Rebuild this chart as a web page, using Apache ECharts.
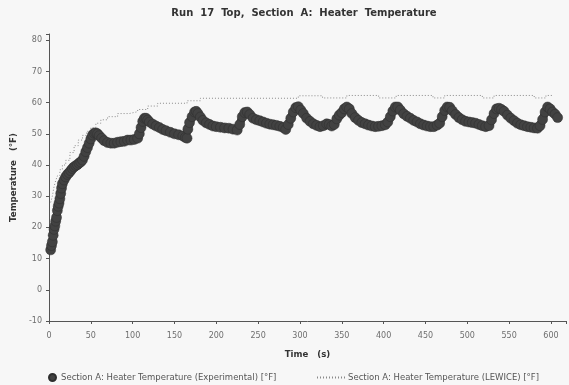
<!DOCTYPE html>
<html>
<head>
<meta charset="utf-8">
<script src="https://cdn.jsdelivr.net/npm/echarts@6/dist/echarts.min.js"></script>
<style>
  html, body { margin: 0; padding: 0; background: #f7f7f7; }
  #chart { width: 569px; height: 385px; }
</style>
</head>
<body>
<div id="chart"></div>
<script>
// Measured heater temperature, Section A (time in s, temperature in °F)
const timeExp = [2,3,4,5,6,7,8,9,10,11,12,13,14,15,16,18,20,22,24,26,28,30,32,34,36,38,40,42,44,46,48,50,52,54,56,58,60,63,66,70,74,78,82,86,90,94,98,102,106,108,110,112,114,116,118,120,124,128,132,136,140,145,150,155,160,163,165,166,168,171,174,176,178,181,184,188,192,196,200,205,210,215,220,225,228,231,234,237,240,244,248,252,256,260,264,268,272,276,280,283,286,289,292,295,298,301,304,308,312,316,320,324,328,332,335,338,341,344,347,350,353,356,359,362,366,370,374,378,382,386,390,394,398,402,405,408,411,414,417,420,424,428,432,436,440,444,448,452,456,460,464,467,470,473,476,479,482,486,490,494,498,502,506,510,514,518,522,526,529,532,535,538,541,544,548,552,556,560,564,568,572,576,580,584,587,590,593,596,599,602,605,608];
const tempExp = [12.8,14.2,15.4,17.5,19.4,20.5,22,23.2,25.4,26.8,27.8,29.2,30.9,32.6,34,35.2,36.2,37,37.5,38.2,38.9,39.4,39.8,40.1,40.6,41,41.6,42.8,44.3,45.6,47,48.4,49.6,50.2,50.3,50,49.4,48.6,47.8,47.2,47,47,47.3,47.5,47.6,48,48,48.2,48.6,50,52,54,55,55,54.4,53.8,53.1,52.5,52,51.4,51,50.5,50,49.7,49.3,48.8,48.6,51.5,53.6,55.5,57,57.2,56.5,55.4,54.3,53.5,53,52.5,52.3,52.1,51.9,51.8,51.5,51.2,53,55.5,56.8,57,56.2,55,54.5,54.2,53.8,53.4,53.1,52.9,52.7,52.4,52,51.4,53,55,57,58.4,58.7,57.6,56.5,55,54,53.2,52.7,52.3,52.6,53.2,53,52.5,53,54.8,56,56.8,58,58.6,58,56.5,55.2,54.3,53.6,53.2,52.8,52.5,52.3,52.4,52.6,52.9,53.8,55.5,57.3,58.6,58.6,57.6,56.4,55.6,55,54.3,53.8,53.2,52.8,52.5,52.3,52.3,52.8,53.4,55.5,57.5,58.6,58.5,57.4,56.2,55.2,54.5,54,53.8,53.6,53.4,53,52.6,52.3,52.6,54.5,56.5,58,58.2,57.8,57.2,56,55,54.2,53.4,52.9,52.6,52.3,52.1,51.9,51.8,52.6,54.6,57,58.6,58,57,56.3,55.2];

// LEWICE prediction, stepwise
const timeLew = [2,4,6,8,10,13,16,20,25,30,35,40,45,50,56,62,70,82,96,106,118,130,165,181,298,327,356,394,415,459,473,518,532,580,594,602];
const tempLew = [28,30,33,35,36.5,38.5,40,41.5,44,46.2,48,49.5,50.8,52,53.4,54.5,55.5,56.5,57.1,57.8,58.9,59.8,60.6,61.4,62.2,61.5,62.3,61.5,62.3,61.5,62.3,61.5,62.3,61.5,62.3,62.3];

const xTicks = [0,50,100,150,200,250,300,350,400,450,500,550,600];
const yTicks = [-10,0,10,20,30,40,50,60,70,80];

const expName = 'Section A: Heater Temperature (Experimental) [°F]';
const lewName = 'Section A: Heater Temperature (LEWICE) [°F]';

const expData = timeExp.map((t, i) => [t, tempExp[i]]);
const lewData = timeLew.map((t, i) => [t, tempLew[i]]);

const labelFont = { fontFamily: 'DejaVu Sans', fontSize: 8, color: '#6e6e6e' };
const boldFont = { fontFamily: 'DejaVu Sans', fontWeight: 'bold', fontSize: 8.6, color: '#333' };
const legendText = { fontFamily: 'DejaVu Sans', fontSize: 8.5, color: '#555', padding: [0, 0, 0, -2] };

const chart = echarts.init(document.getElementById('chart'), null, { renderer: 'canvas' });
chart.setOption({
  backgroundColor: '#f7f7f7',
  animation: false,
  title: {
    text: 'Run  17  Top,  Section  A:  Heater  Temperature',
    left: 304,
    textAlign: 'center',
    top: 8,
    padding: 0,
    textStyle: Object.assign({}, boldFont, { fontSize: 10 })
  },
  grid: { left: 49, right: 2, top: 34, bottom: 64, containLabel: false },
  legend: [
    {
      data: [{ name: expName, icon: 'circle' }],
      left: 43, top: 368, itemWidth: 7, itemHeight: 7,
      textStyle: Object.assign({}, legendText, { padding: [0, 0, 0, 0] })
    },
    {
      data: [{ name: lewName, itemStyle: { opacity: 0 } }],
      left: 311, top: 368, itemWidth: 28, itemHeight: 9,
      textStyle: legendText
    }
  ],
  xAxis: {
    type: 'value',
    min: 0, max: 618, interval: 50,
    name: 'Time   (s)',
    nameLocation: 'middle',
    nameGap: 29,
    nameTextStyle: boldFont,
    axisLine: { onZero: false, lineStyle: { color: '#555', width: 1 } },
    axisTick: { show: true, inside: false, length: 3, lineStyle: { color: '#555' } },
    axisLabel: Object.assign({}, labelFont, {
      margin: 11,
      formatter: v => (xTicks.indexOf(v) >= 0 ? String(v) : '')
    }),
    splitLine: { show: false }
  },
  yAxis: {
    type: 'value',
    min: -10, max: 82, interval: 10,
    name: 'Temperature   (°F)',
    nameLocation: 'middle',
    nameGap: 24,
    nameTextStyle: boldFont,
    axisLine: { show: true, onZero: false, lineStyle: { color: '#555', width: 1 } },
    axisTick: { show: true, inside: false, length: 3, lineStyle: { color: '#555' } },
    axisLabel: Object.assign({}, labelFont, {
      margin: 7,
      formatter: v => (yTicks.indexOf(v) >= 0 ? String(v) : '')
    }),
    splitLine: { show: false }
  },
  series: [
    {
      name: lewName,
      type: 'line',
      step: 'end',
      data: lewData,
      symbol: 'none',
      lineStyle: { color: '#8a8a8a', width: 1, type: [1, 2] },
      itemStyle: { color: '#8a8a8a' },
      z: 2
    },
    {
      name: expName,
      type: 'line',
      data: expData,
      symbol: 'circle',
      symbolSize: 10,
      showAllSymbol: true,
      lineStyle: { color: '#3a3a3a', width: 8 },
      itemStyle: { color: '#424242', borderColor: '#2e2e2e', borderWidth: 0.5 },
      z: 3
    }
  ]
});
</script>
</body>
</html>
